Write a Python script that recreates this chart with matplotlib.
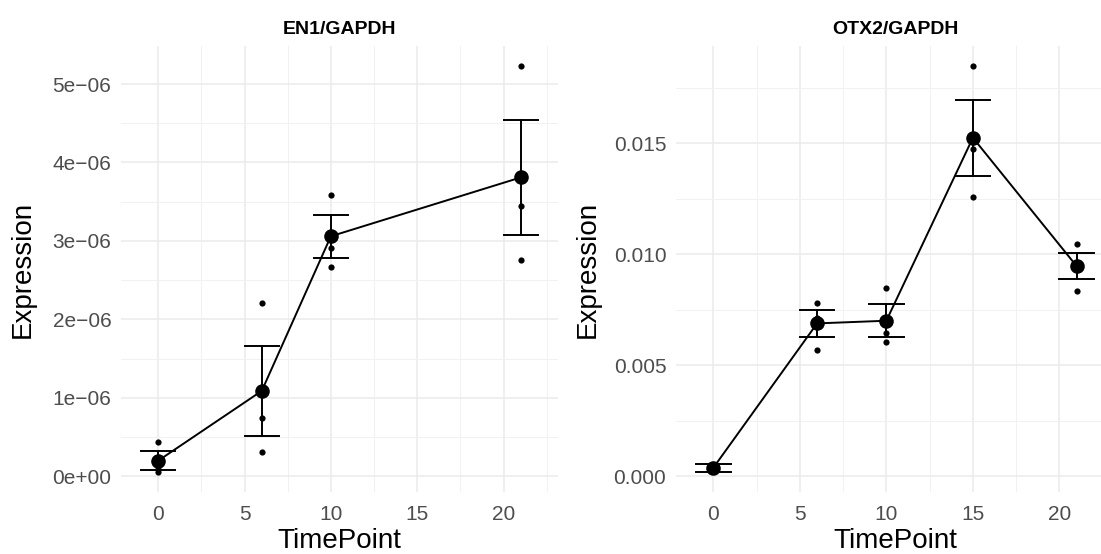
import numpy as np
import matplotlib
matplotlib.use("Agg")
import matplotlib.pyplot as plt

plt.rcParams["font.family"] = ["Liberation Sans", "DejaVu Sans"]

# EN1/GAPDH panel
en1_time = [0, 6, 10, 21]
en1_mean = [0.20e-6, 1.09e-6, 3.06e-6, 3.81e-6]
en1_se = [0.12e-6, 0.576e-6, 0.271e-6, 0.73e-6]
en1_reps = [
    [0.44e-6, 0.10e-6, 0.06e-6],
    [2.21e-6, 0.745e-6, 0.316e-6],
    [3.586e-6, 2.913e-6, 2.674e-6],
    [5.226e-6, 3.442e-6, 2.764e-6],
]
en1_yticks = [0, 1e-6, 2e-6, 3e-6, 4e-6, 5e-6]
en1_ylabels = ["0e+00", "1e\u221206", "2e\u221206", "3e\u221206", "4e\u221206", "5e\u221206"]

# OTX2/GAPDH panel
otx2_time = [0, 6, 10, 15, 21]
otx2_mean = [0.00037, 0.00688, 0.00700, 0.01524, 0.00945]
otx2_se = [0.00017, 0.00062, 0.00074, 0.0017, 0.00059]
otx2_reps = [
    [0.00030, 0.00040, 0.00045],
    [0.00782, 0.00570, 0.00712],
    [0.00849, 0.00646, 0.00606],
    [0.01846, 0.01473, 0.01257],
    [0.01045, 0.00835, 0.00955],
]
otx2_yticks = [0.0, 0.005, 0.010, 0.015]
otx2_ylabels = ["0.000", "0.005", "0.010", "0.015"]

xticks = [0, 5, 10, 15, 20]
W, H = 1101, 554


def panel(ax, title, t, mean, se, reps, yticks, ylabels, ylab_x):
    t = np.array(t, dtype=float)
    mean = np.array(mean)
    se = np.array(se)

    ax.set_xticks(xticks)
    ax.set_xticks([-2.5, 2.5, 7.5, 12.5, 17.5, 22.5], minor=True)
    ax.set_yticks(yticks)
    ax.set_yticklabels(ylabels)
    step = yticks[1] - yticks[0]
    ax.set_yticks([y + step / 2 for y in [yticks[0] - step] + yticks], minor=True)

    # ggplot-like range: data plus 5% expansion (set after ticks)
    lo = min(min(min(r) for r in reps), (mean - se).min())
    hi = max(max(max(r) for r in reps), (mean + se).max())
    pad = (hi - lo) * 0.05
    ax.set_ylim(lo - pad, hi + pad)
    xlo, xhi = -1, 22
    xpad = (xhi - xlo) * 0.05
    ax.set_xlim(xlo - xpad, xhi + xpad)

    ax.grid(which="major", color="#EBEBEB", lw=1.1)
    ax.grid(which="minor", color="#F1F1F1", lw=0.7)
    ax.set_axisbelow(True)
    for s in ax.spines.values():
        s.set_visible(False)
    ax.tick_params(which="both", length=0, labelsize=15, labelcolor="#4D4D4D")
    ax.tick_params(axis="y", pad=7)
    ax.tick_params(axis="x", pad=9)

    for ti, r in zip(t, reps):
        ax.scatter([ti] * len(r), r, s=20, color="black", zorder=3, lw=0)
    ax.plot(t, mean, color="black", lw=1.4, zorder=4)
    for ti, m, e in zip(t, mean, se):
        ax.plot([ti, ti], [m - e, m + e], color="black", lw=1.4, zorder=4)
        ax.plot([ti - 1, ti + 1], [m + e, m + e], color="black", lw=1.4, zorder=4)
        ax.plot([ti - 1, ti + 1], [m - e, m - e], color="black", lw=1.4, zorder=4)
    ax.scatter(t, mean, s=110, color="black", zorder=5, lw=0)

    ax.set_title(title, fontsize=14, fontweight="bold", pad=9)
    fig.text(ylab_x / W, 1 - 269 / H, "Expression", rotation=90,
             ha="center", va="center", fontsize=20)


fig = plt.figure(figsize=(W / 100, H / 100), dpi=100)
ax1 = fig.add_axes([121 / W, (H - 492) / H, 437 / W, 446 / H])
ax2 = fig.add_axes([676 / W, (H - 492) / H, 438 / W, 446 / H])

panel(ax1, "EN1/GAPDH", en1_time, en1_mean, en1_se, en1_reps, en1_yticks, en1_ylabels, 23)
panel(ax2, "OTX2/GAPDH", otx2_time, otx2_mean, otx2_se, otx2_reps, otx2_yticks, otx2_ylabels, 588)

fig.text((121 + 558) / 2 / W, 1 - 548 / H, "TimePoint", ha="center", va="baseline", fontsize=20)
fig.text((676 + 1114) / 2 / W, 1 - 548 / H, "TimePoint", ha="center", va="baseline", fontsize=20)

fig.savefig("out.png", dpi=100, facecolor="white")
